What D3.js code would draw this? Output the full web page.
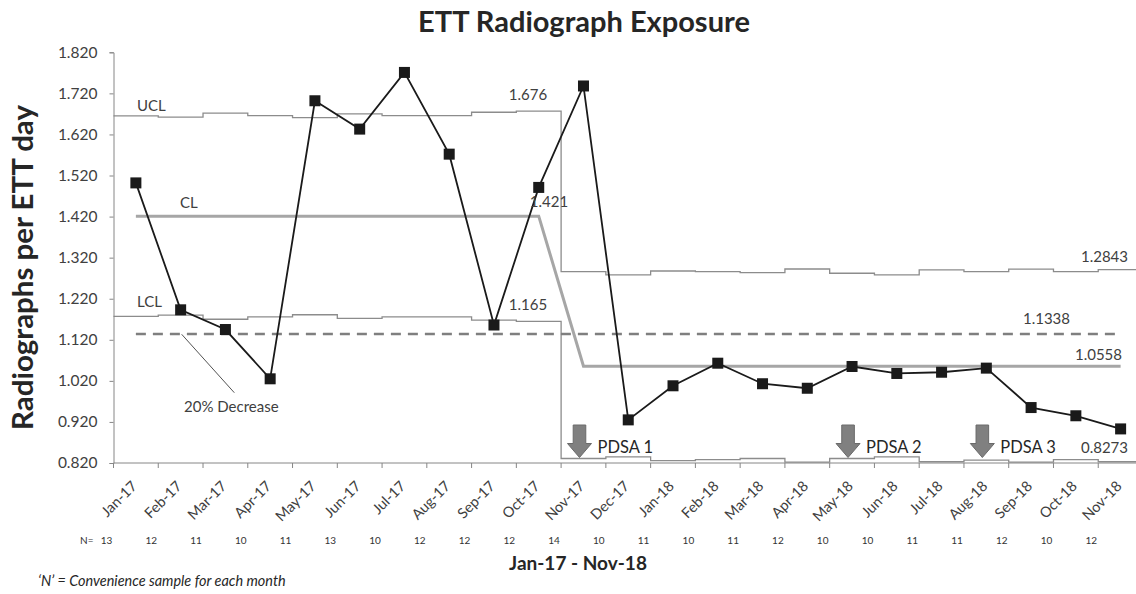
<!DOCTYPE html>
<html>
<head>
<meta charset="utf-8">
<script src="https://cdn.jsdelivr.net/npm/d3@7"></script>
<style>
  html, body { margin: 0; padding: 0; background: #fff; }
  svg { display: block; }
  text { font-family: Lato, "Open Sans", sans-serif; }
</style>
</head>
<body>
<svg id="chart" width="1136" height="594"></svg>
<script>
// ---------- data ----------
const months = ["Jan-17","Feb-17","Mar-17","Apr-17","May-17","Jun-17","Jul-17","Aug-17","Sep-17","Oct-17","Nov-17","Dec-17",
                "Jan-18","Feb-18","Mar-18","Apr-18","May-18","Jun-18","Jul-18","Aug-18","Sep-18","Oct-18","Nov-18"];
const rate = [1.502,1.193,1.145,1.025,1.702,1.633,1.771,1.572,1.156,1.491,1.738,0.925,
              1.008,1.063,1.013,1.002,1.055,1.038,1.041,1.051,0.955,0.935,0.903];
const centerLine = [1.421,1.421,1.421,1.421,1.421,1.421,1.421,1.421,1.421,1.421,
                    1.0558,1.0558,1.0558,1.0558,1.0558,1.0558,1.0558,1.0558,1.0558,1.0558,1.0558,1.0558,1.0558];
const ucl = [1.665,1.662,1.672,1.666,1.661,1.670,1.666,1.666,1.674,1.677,
             1.286,1.278,1.2875,1.286,1.2834,1.2924,1.282,1.278,1.290,1.286,1.292,1.286,1.2907];
const lcl = [1.177,1.180,1.170,1.176,1.181,1.172,1.176,1.176,1.168,1.165,
             0.831,0.835,0.826,0.828,0.831,0.822,0.831,0.835,0.823,0.827,0.822,0.828,0.823];
const goal = 1.1338;
const nSample = [13,12,11,10,11,13,10,12,12,12,14,10,11,10,11,12,10,10,11,11,12,10,12];
const yTicks = [0.820,0.920,1.020,1.120,1.220,1.320,1.420,1.520,1.620,1.720,1.820];
const pdsa = [{month:"Nov-17", label:"PDSA 1"},{month:"May-18", label:"PDSA 2"},{month:"Aug-18", label:"PDSA 3"}];
const valueLabels = ["UCL","CL","LCL","1.676","1.421","1.165","1.2843","1.1338","1.0558","0.8273"];

// ---------- layout ----------
const svg = d3.select("#chart");
const pL = 113.5, pR = 1143, pT = 52.3, pB = 463;
const x = d3.scaleBand().domain(months).range([pL, pR]).padding(0);
const y = d3.scaleLinear().domain([0.82, 1.82]).range([pB, pT]);
const cx = m => x(m) + x.bandwidth() / 2;

svg.append("defs").append("clipPath").attr("id","clip")
  .append("rect").attr("x",0).attr("y",0).attr("width",1136).attr("height",594);
const g = svg.append("g").attr("clip-path","url(#clip)");

function fitWidth(sel, w) {
  const len = sel.node().getComputedTextLength();
  const fs = parseFloat(sel.attr("font-size"));
  if (len > 0) sel.attr("font-size", fs * w / len);
}

// title
const title = svg.append("text").attr("x", 584).attr("y", 31.5).attr("text-anchor","middle")
  .attr("font-size", 26).attr("font-weight", 700).attr("fill","#262626").text("ETT Radiograph Exposure");
fitWidth(title, 332);

// y title
const yt = svg.append("text").attr("transform","translate(33,267.5) rotate(-90)").attr("text-anchor","middle")
  .attr("font-size", 26).attr("font-weight", 700).attr("fill","#262626").text("Radiographs per ETT day");
fitWidth(yt, 325);

// axes
const yAxis = d3.axisLeft(y).tickValues(yTicks).tickFormat(d3.format(".3f")).tickSize(4).tickPadding(12);
const ya = svg.append("g").attr("transform",`translate(${pL},0)`).call(yAxis);
ya.select(".domain").attr("stroke","#868686");
ya.selectAll(".tick line").attr("stroke","#868686");
ya.selectAll(".tick text").attr("font-family","Lato").attr("font-size",15.5).attr("fill","#404040");

// x axis line + boundary ticks
g.append("line").attr("x1",pL).attr("x2",pR).attr("y1",pB).attr("y2",pB).attr("stroke","#868686");
g.selectAll(".xtick").data(months).enter().append("line")
  .attr("x1", d => x(d)).attr("x2", d => x(d)).attr("y1", pB).attr("y2", pB + 5).attr("stroke","#868686");

// x labels
svg.selectAll(".xlab").data(months).enter().append("text")
  .attr("text-anchor","end").attr("font-size",14.5).attr("fill","#404040")
  .attr("transform", d => `translate(${cx(d)+2},487) rotate(-45)`).text(d => d);

// control limits (step lines)
const stepLine = arr => {
  const pts = [];
  months.forEach((m,i) => { pts.push([x(m), y(arr[i])]); pts.push([x(m)+x.bandwidth(), y(arr[i])]); });
  return d3.line()(pts);
};
g.append("path").attr("d", stepLine(ucl)).attr("fill","none").attr("stroke","#8c8c8c").attr("stroke-width",1.3);
g.append("path").attr("d", stepLine(lcl)).attr("fill","none").attr("stroke","#8c8c8c").attr("stroke-width",1.3);

// goal dashed line
g.append("line").attr("x1", cx(months[0])).attr("x2", cx(months[months.length-1]))
  .attr("y1", y(goal)).attr("y2", y(goal)).attr("stroke","#7f7f7f").attr("stroke-width",2.5)
  .attr("stroke-dasharray","10,7");

// center line
const line = d3.line().x((d,i) => cx(months[i])).y(d => y(d));
g.append("path").attr("d", line(centerLine)).attr("fill","none").attr("stroke","#a6a6a6").attr("stroke-width",3);

// 20% decrease leader
svg.append("line").attr("x1",181.7).attr("y1",334.3).attr("x2",234.3).attr("y2",392.7).attr("stroke","#262626").attr("stroke-width",0.8);

// value labels
const lab = (t, xx, yy, anchor="start") => svg.append("text").attr("x",xx).attr("y",yy).attr("text-anchor",anchor)
  .attr("font-size",15).attr("fill","#404040").text(t);
lab(valueLabels[0], 137, y(ucl[0]) - 5);
lab(valueLabels[1], 180, y(centerLine[0]) - 8.5);
lab(valueLabels[2], 137, y(lcl[0]) - 9);
lab(valueLabels[3], x("Nov-17") - 14, y(ucl[9]) - 11, "end");
lab(valueLabels[4], 549, y(centerLine[9]) - 9, "middle");
lab(valueLabels[5], x("Nov-17") - 14, y(lcl[9]) - 11, "end");
lab(valueLabels[6], 1128, y(ucl[22]) - 7.5, "end");
lab(valueLabels[7], 1070, y(goal) - 10, "end");
lab(valueLabels[8], 1122, y(centerLine[22]) - 6, "end");
lab(valueLabels[9], 1128, 453, "end");
lab("20% Decrease", 184, 412);

// data series
g.append("path").attr("d", line(rate)).attr("fill","none").attr("stroke","#1a1a1a").attr("stroke-width",1.8);
const s = 11;
g.selectAll(".pt").data(rate).enter().append("rect")
  .attr("x",(d,i) => cx(months[i]) - s/2).attr("y", d => y(d) - s/2)
  .attr("width", s).attr("height", s).attr("fill","#1a1a1a");

// PDSA arrows
pdsa.forEach(p => {
  const tx = cx(p.month) - 4;
  const path = `M${tx-6.3},425 H${tx+6.3} V443.5 H${tx+12} L${tx},457.5 L${tx-12},443.5 H${tx-6.3} Z`;
  svg.append("path").attr("d", path).attr("fill","#808080").attr("stroke","#6a6a6a").attr("stroke-width",1);
  svg.append("text").attr("x", tx + 18).attr("y", 452.5).attr("font-size",16.5).attr("fill","#262626").text(p.label);
});

// N row
svg.append("text").attr("x",80).attr("y",543.5).attr("font-family","'Liberation Serif', serif")
  .attr("font-size",10).attr("fill","#333").text("N=");
svg.selectAll(".nlab").data(nSample).enter().append("text")
  .attr("x",(d,i) => x(months[i]) - 7).attr("y",543.5).attr("text-anchor","middle")
  .attr("font-family","'Liberation Serif', serif").attr("font-size",10).attr("fill","#333").text(d => d);

// x title
const xt = svg.append("text").attr("x",578).attr("y",570).attr("text-anchor","middle")
  .attr("font-size",14).attr("font-weight",700).attr("fill","#262626").text("Jan-17 - Nov-18");
fitWidth(xt, 138);

// footnote
const fn = svg.append("text").attr("x",38).attr("y",586).attr("font-style","italic")
  .attr("font-size",12).attr("fill","#262626").text("\u2018N\u2019 = Convenience sample for each month");
fitWidth(fn, 248);
</script>
</body>
</html>
